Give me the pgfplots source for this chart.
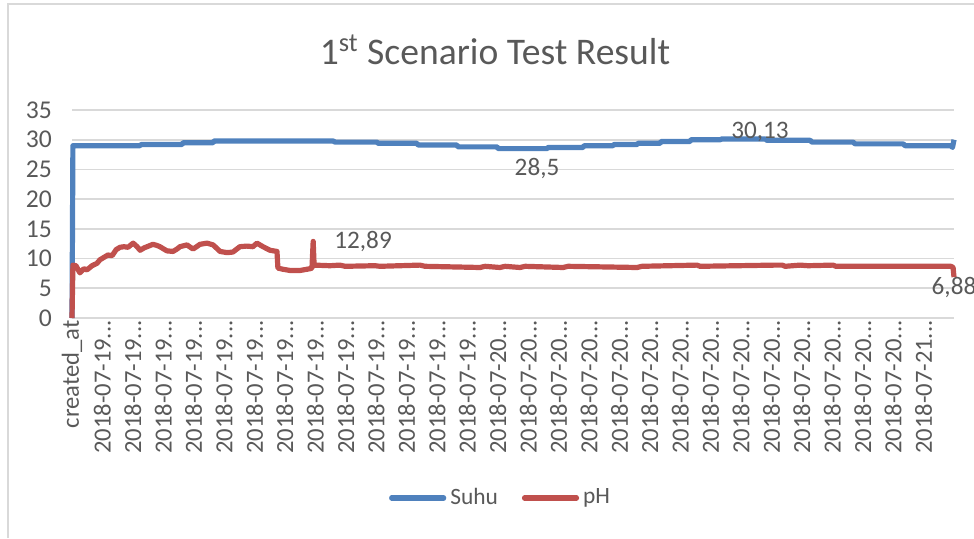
\documentclass[border=0pt]{standalone}
\usepackage{fontspec}
\setmainfont{Carlito}
\usepackage{pgfplots}
\pgfplotsset{compat=1.18}
\definecolor{suhu}{HTML}{4F81BD}
\definecolor{ph}{HTML}{C0504D}
\definecolor{txt}{HTML}{595959}
\definecolor{grd}{HTML}{D9D9D9}
\newcommand{\dts}{...}
\begin{document}
\begin{tikzpicture}
\path[use as bounding box] (0,0) rectangle (487pt,269pt);
\draw[grd, line width=0.8pt] (4pt,0) -- (4pt,267pt) -- (490pt,267pt);
\node[txt, font=\fontsize{18.8}{22}\selectfont] at (247.5pt,244pt) {1\textsuperscript{st} Scenario Test Result};
\begin{axis}[
  at={(36pt,110pt)}, anchor=south west,
  scale only axis, width=441pt, height=104pt,
  xmin=0, xmax=29, ymin=0, ymax=35,
  ytick={0,5,...,35},
  xtick={0,...,28},
  xticklabels={created\_at,
    2018-07-19\dts,2018-07-19\dts,2018-07-19\dts,2018-07-19\dts,2018-07-19\dts,2018-07-19\dts,2018-07-19\dts,2018-07-19\dts,2018-07-19\dts,2018-07-19\dts,2018-07-19\dts,2018-07-19\dts,2018-07-19\dts,
    2018-07-20\dts,2018-07-20\dts,2018-07-20\dts,2018-07-20\dts,2018-07-20\dts,2018-07-20\dts,2018-07-20\dts,2018-07-20\dts,2018-07-20\dts,2018-07-20\dts,2018-07-20\dts,2018-07-20\dts,2018-07-20\dts,2018-07-20\dts,
    2018-07-21\dts},
  /pgf/number format/assume math mode=true,
  tick label style={font=\fontsize{12.3}{14}\selectfont, text=txt},
  xticklabel style={rotate=90, anchor=east, inner sep=1pt},
  yticklabel style={font=\fontsize{12.8}{14}\selectfont, xshift=-6.5pt},
  major tick length=0pt,
  axis line style={draw=none},
  ymajorgrids, grid style={grd, line width=0.8pt},
  legend style={at={(0.487,-0.865)}, anchor=center, draw=none, fill=none,
    legend columns=2, font=\fontsize{11.7}{13}\selectfont, text=txt,
    /tikz/every even column/.append style={column sep=10pt}},
  legend image code/.code={\draw[#1, line cap=round] (0pt,0pt) -- (26pt,0pt);},
  clip=false,
]
\draw[grd, line width=0.8pt] (axis cs:0,0) -- (axis cs:29,0);
\addplot[suhu, line width=2.6pt, line join=round] coordinates {
(0,0) (0.03,29.0) (2.24,29.0) (2.27,29.2) (3.62,29.2) (3.65,29.5) (4.64,29.5) (4.67,29.8)
(8.58,29.8) (8.65,29.6) (10.03,29.6) (10.06,29.4) (11.34,29.4) (11.38,29.1) (12.66,29.1)
(12.69,28.8) (13.98,28.8) (14.01,28.5) (15.62,28.5) (15.65,28.7) (16.80,28.7) (16.84,29.0)
(17.79,29.0) (17.82,29.2) (18.58,29.2) (18.61,29.4) (19.34,29.4) (19.37,29.7) (20.32,29.7)
(20.35,30.0) (21.31,30.0) (21.37,30.13) (22.79,30.13) (22.85,29.9) (24.27,29.9) (24.33,29.6)
(25.68,29.6) (25.75,29.3) (27.33,29.3) (27.39,29.0) (28.90,29.0) (28.95,28.7) (29.0,30.0)
};
\addlegendentry{Suhu}
\addplot[ph, line width=2.6pt, line join=round] coordinates {
(0,0) (0.03,8.9) (0.13,8.8) (0.26,7.6) (0.39,8.3) (0.49,8.1) (0.66,8.8) (0.82,9.2) (0.92,9.8)
(1.05,10.2) (1.18,10.6) (1.32,10.5) (1.45,11.5) (1.58,11.9) (1.71,12.0) (1.84,11.9) (2.01,12.6)
(2.14,12.0) (2.24,11.4) (2.37,11.8) (2.47,12.0) (2.66,12.4) (2.80,12.2) (2.89,12.0) (3.12,11.3)
(3.32,11.2) (3.45,11.6) (3.55,12.0) (3.78,12.3) (3.98,11.6) (4.21,12.4) (4.44,12.6) (4.64,12.3)
(4.87,11.2) (5.10,11.0) (5.29,11.1) (5.52,12.0) (5.75,12.1) (5.95,12.0) (6.08,12.6) (6.28,12.0)
(6.51,11.4) (6.74,11.2) (6.77,8.4) (6.94,8.2) (7.17,8.0) (7.50,8.0) (7.83,8.3) (7.89,8.4)
(7.93,12.89) (7.96,8.9) (8.48,8.8) (8.81,8.9) (8.98,8.7) (9.96,8.8) (10.13,8.7) (11.44,8.9)
(11.61,8.7) (13.42,8.5) (13.58,8.7) (14.07,8.5) (14.24,8.7) (14.73,8.5) (14.90,8.7) (16.15,8.5)
(16.31,8.7) (18.58,8.5) (18.74,8.7) (20.55,8.9) (20.65,8.7) (23.12,8.9) (23.35,8.9) (23.45,8.7)
(23.94,8.9) (24.20,8.8) (25.02,8.9) (25.12,8.7) (28.90,8.7) (28.97,8.5) (29.0,6.88)
};
\addlegendentry{pH}
\node[txt, font=\fontsize{12.6}{14}\selectfont] at (axis cs:15.29,25.2) {28,5};
\node[txt, font=\fontsize{12.6}{14}\selectfont] at (axis cs:22.62,31.3) {30,13};
\node[txt, font=\fontsize{12.6}{14}\selectfont] at (axis cs:9.57,12.8) {12,89};
\node[txt, font=\fontsize{12.6}{14}\selectfont] at (axis cs:29,5.05) {6,88};
\end{axis}
\end{tikzpicture}
\end{document}
